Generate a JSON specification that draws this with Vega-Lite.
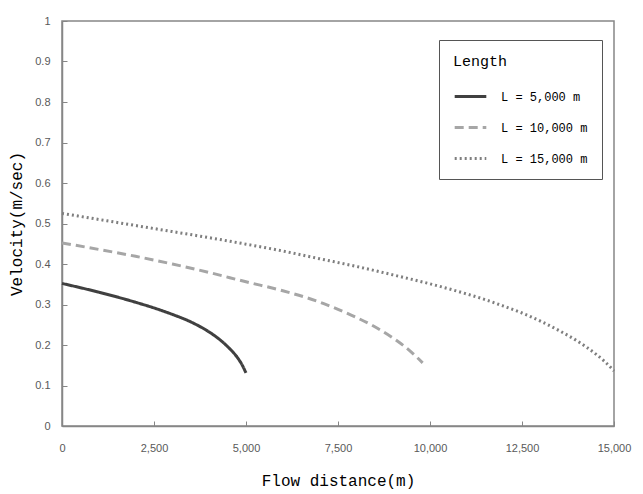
{
  "$schema": "https://vega.github.io/schema/vega-lite/v6.json",
  "autosize": "none",
  "width": 552,
  "height": 405,
  "padding": {"left": 62, "top": 21, "right": 29, "bottom": 68},
  "background": "white",
  "config": {
    "view": {"stroke": "#868686", "strokeWidth": 1.5},
    "axis": {
      "grid": false,
      "domainColor": "#868686",
      "domainWidth": 1.5,
      "tickColor": "#868686",
      "tickWidth": 1,
      "tickSize": -5,
      "labelFont": "Liberation Sans",
      "labelFontSize": 11,
      "labelColor": "#595959",
      "titleFont": "Liberation Mono",
      "titleFontSize": 16,
      "titleFontWeight": "normal",
      "titleColor": "#000000"
    }
  },
  "data": {
    "values": [
      {"series": "L = 5,000 m", "dist": 0, "vel": 0.352},
      {"series": "L = 5,000 m", "dist": 500, "vel": 0.3415},
      {"series": "L = 5,000 m", "dist": 1000, "vel": 0.3305},
      {"series": "L = 5,000 m", "dist": 1500, "vel": 0.3185},
      {"series": "L = 5,000 m", "dist": 2000, "vel": 0.3055},
      {"series": "L = 5,000 m", "dist": 2500, "vel": 0.2915},
      {"series": "L = 5,000 m", "dist": 3000, "vel": 0.2755},
      {"series": "L = 5,000 m", "dist": 3500, "vel": 0.257},
      {"series": "L = 5,000 m", "dist": 4000, "vel": 0.232},
      {"series": "L = 5,000 m", "dist": 4250, "vel": 0.216},
      {"series": "L = 5,000 m", "dist": 4500, "vel": 0.196},
      {"series": "L = 5,000 m", "dist": 4750, "vel": 0.171},
      {"series": "L = 5,000 m", "dist": 4875, "vel": 0.154},
      {"series": "L = 5,000 m", "dist": 5000, "vel": 0.131},
      {"series": "L = 10,000 m", "dist": 0, "vel": 0.452},
      {"series": "L = 10,000 m", "dist": 1000, "vel": 0.436},
      {"series": "L = 10,000 m", "dist": 2000, "vel": 0.419},
      {"series": "L = 10,000 m", "dist": 3000, "vel": 0.400},
      {"series": "L = 10,000 m", "dist": 4000, "vel": 0.379},
      {"series": "L = 10,000 m", "dist": 5000, "vel": 0.356},
      {"series": "L = 10,000 m", "dist": 6000, "vel": 0.334},
      {"series": "L = 10,000 m", "dist": 7000, "vel": 0.306},
      {"series": "L = 10,000 m", "dist": 7500, "vel": 0.288},
      {"series": "L = 10,000 m", "dist": 8000, "vel": 0.268},
      {"series": "L = 10,000 m", "dist": 8500, "vel": 0.245},
      {"series": "L = 10,000 m", "dist": 9000, "vel": 0.217},
      {"series": "L = 10,000 m", "dist": 9500, "vel": 0.182},
      {"series": "L = 10,000 m", "dist": 9800, "vel": 0.156},
      {"series": "L = 15,000 m", "dist": 0, "vel": 0.525},
      {"series": "L = 15,000 m", "dist": 1000, "vel": 0.510},
      {"series": "L = 15,000 m", "dist": 2000, "vel": 0.495},
      {"series": "L = 15,000 m", "dist": 3000, "vel": 0.480},
      {"series": "L = 15,000 m", "dist": 4000, "vel": 0.465},
      {"series": "L = 15,000 m", "dist": 5000, "vel": 0.449},
      {"series": "L = 15,000 m", "dist": 6000, "vel": 0.432},
      {"series": "L = 15,000 m", "dist": 7000, "vel": 0.413},
      {"series": "L = 15,000 m", "dist": 8000, "vel": 0.394},
      {"series": "L = 15,000 m", "dist": 9000, "vel": 0.373},
      {"series": "L = 15,000 m", "dist": 10000, "vel": 0.351},
      {"series": "L = 15,000 m", "dist": 10500, "vel": 0.339},
      {"series": "L = 15,000 m", "dist": 11000, "vel": 0.326},
      {"series": "L = 15,000 m", "dist": 11500, "vel": 0.312},
      {"series": "L = 15,000 m", "dist": 12000, "vel": 0.296},
      {"series": "L = 15,000 m", "dist": 12500, "vel": 0.279},
      {"series": "L = 15,000 m", "dist": 13000, "vel": 0.259},
      {"series": "L = 15,000 m", "dist": 13500, "vel": 0.236},
      {"series": "L = 15,000 m", "dist": 14000, "vel": 0.210},
      {"series": "L = 15,000 m", "dist": 14500, "vel": 0.178},
      {"series": "L = 15,000 m", "dist": 14750, "vel": 0.159},
      {"series": "L = 15,000 m", "dist": 15000, "vel": 0.136}
    ]
  },
  "mark": {"type": "line", "interpolate": "monotone", "strokeWidth": 3, "strokeCap": "butt"},
  "encoding": {
    "x": {
      "field": "dist", "type": "quantitative",
      "scale": {"domain": [0, 15000], "nice": false},
      "axis": {"values": [0, 2500, 5000, 7500, 10000, 12500, 15000], "format": ",.0f", "title": "Flow distance(m)", "labelPadding": 21, "titlePadding": 19, "labelFlush": false}
    },
    "y": {
      "field": "vel", "type": "quantitative",
      "scale": {"domain": [0, 1], "nice": false},
      "axis": {"values": [0, 0.1, 0.2, 0.3, 0.4, 0.5, 0.6, 0.7, 0.8, 0.9, 1], "format": ".1~f", "title": "Velocity(m/sec)", "labelPadding": 17, "titlePadding": 10}
    },
    "color": {
      "field": "series", "type": "nominal",
      "scale": {"domain": ["L = 5,000 m", "L = 10,000 m", "L = 15,000 m"], "range": ["#404040", "#a6a6a6", "#7f7f7f"]},
      "legend": {
        "title": "Length",
        "orient": "none",
        "legendX": 377,
        "legendY": 19,
        "direction": "vertical",
        "fillColor": "white",
        "strokeColor": "#555555",
        "padding": 14,
        "titleFont": "Liberation Mono",
        "titleFontSize": 15,
        "titleFontWeight": "normal",
        "titleColor": "#000000",
        "titlePadding": 10,
        "labelFont": "Liberation Mono",
        "labelFontSize": 12,
        "labelColor": "#000000",
        "labelOffset": 13,
        "symbolType": "stroke",
        "symbolSize": 1000,
        "symbolStrokeWidth": 3,
        "rowPadding": 7
      }
    },
    "strokeDash": {
      "field": "series", "type": "nominal",
      "scale": {"domain": ["L = 5,000 m", "L = 10,000 m", "L = 15,000 m"], "range": [[1, 0], [9, 5], [2, 3]]}
    },
    "strokeWidth": {
      "field": "series", "type": "nominal",
      "scale": {"domain": ["L = 5,000 m", "L = 10,000 m", "L = 15,000 m"], "range": [3, 3, 2.5]},
      "legend": null
    }
  }
}
